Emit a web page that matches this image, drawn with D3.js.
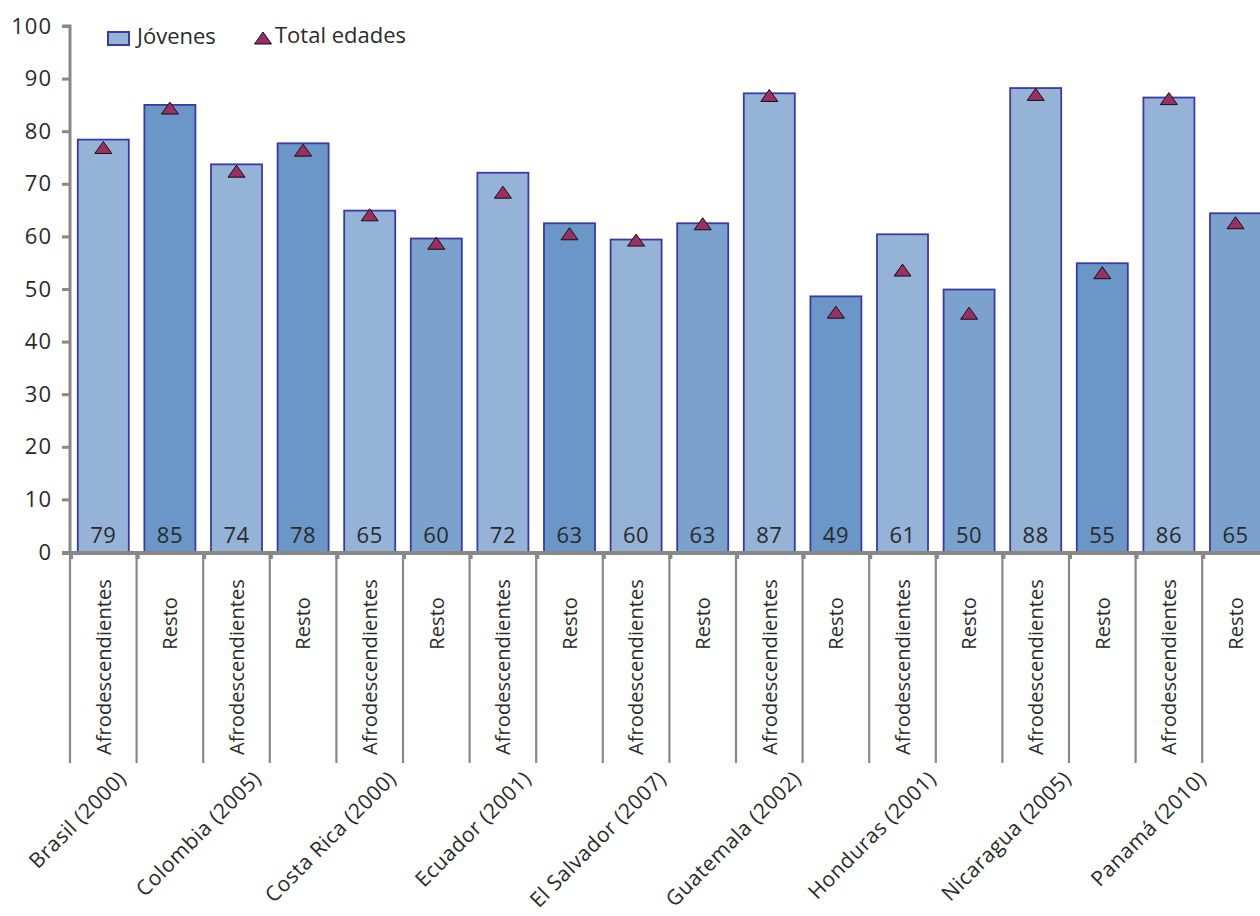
<!DOCTYPE html>
<html>
<head>
<meta charset="utf-8">
<script src="https://cdn.jsdelivr.net/npm/d3@7/dist/d3.min.js"></script>
<style>
  html, body { margin: 0; padding: 0; background: #fff; }
  svg { display: block; }
  text { font-family: "Open Sans", "Lato", sans-serif; fill: #2a2a2a; }
</style>
</head>
<body>
<svg id="chart" width="1260" height="916"></svg>
<script>
// ---- data ----
const countries = ["Brasil (2000)", "Colombia (2005)", "Costa Rica (2000)", "Ecuador (2001)", "El Salvador (2007)", "Guatemala (2002)", "Honduras (2001)", "Nicaragua (2005)", "Panamá (2010)"];
const groups = ["Afrodescendientes", "Resto"];
const jovenes = [78.4, 85.0, 73.7, 77.7, 64.9, 59.6, 72.1, 62.5, 59.4, 62.5, 87.2, 48.6, 60.4, 49.9, 88.2, 54.9, 86.4, 64.4];
const jovenesLabels = ["79", "85", "74", "78", "65", "60", "72", "63", "60", "63", "87", "49", "61", "50", "88", "55", "86", "65"];
const totalEdades = [76.9, 84.4, 72.4, 76.4, 64.1, 58.7, 68.4, 60.5, 59.3, 62.4, 86.8, 45.6, 53.6, 45.4, 87.0, 53.1, 86.2, 62.6];
const yTicks = [0, 10, 20, 30, 40, 50, 60, 70, 80, 90, 100];
const seriesNames = ["Jóvenes", "Total edades"];

// ---- styles ----
const colAfro = "#95b3d7";
const colRestoDark = "#6b97c8";
const colRestoMid = "#7ba1cd";
const restoShade = [colRestoDark, colRestoDark, colRestoMid, colRestoDark, colRestoMid, colRestoDark, colRestoMid, colRestoDark, colRestoMid];
const barStroke = "#3a3aa6";
const triFill = "#9b2f62";
const axisCol = "#888888";

// ---- table ----
const rows = [];
countries.forEach((c, ci) => {
  groups.forEach((g, gi) => {
    const i = ci * 2 + gi;
    rows.push({ key: c + "|" + g, country: c, ci, group: g, gi, jov: jovenes[i], lab: jovenesLabels[i], tot: totalEdades[i] });
  });
});

const svg = d3.select("#chart");
const step = 66.6;
const x0 = 70;
const x = d3.scaleBand()
  .domain(rows.map(d => d.key))
  .range([x0, x0 + rows.length * step])
  .paddingInner(0.234)
  .paddingOuter(0.117);
const y = d3.scaleLinear().domain([0, 100]).range([552, 26]);

// bars
svg.append("g").selectAll("rect")
  .data(rows).join("rect")
  .attr("x", d => x(d.key))
  .attr("y", d => y(d.jov))
  .attr("width", x.bandwidth())
  .attr("height", d => y(0) - y(d.jov))
  .attr("fill", d => d.gi === 0 ? colAfro : restoShade[d.ci])
  .attr("stroke", barStroke)
  .attr("stroke-width", 1.8);

// value labels inside bars
svg.append("g").selectAll("text")
  .data(rows).join("text")
  .attr("x", d => x(d.key) + x.bandwidth() / 2)
  .attr("y", 543)
  .attr("text-anchor", "middle")
  .attr("font-size", 22)
  .attr("letter-spacing", 0.5)
  .text(d => d.lab);

// triangles (Total edades)
const triW = 17, triH = 12;
const triPath = `M0,${-triH/2} L${triW/2},${triH/2} L${-triW/2},${triH/2} Z`;
svg.append("g").selectAll("path")
  .data(rows).join("path")
  .attr("d", triPath)
  .attr("transform", d => `translate(${x(d.key) + x.bandwidth() / 2},${y(d.tot)})`)
  .attr("fill", triFill)
  .attr("stroke", "#111")
  .attr("stroke-width", 1);

// y axis
const yAxis = d3.axisLeft(y).tickValues(yTicks).tickSize(8).tickPadding(10).tickFormat(d3.format("d"));
const gy = svg.append("g").attr("transform", `translate(${x0},0)`).call(yAxis);
gy.select(".domain").attr("stroke", axisCol).attr("stroke-width", 3).attr("d", `M-8,${y(100)}H0V${y(0)}`);
gy.selectAll(".tick line").attr("stroke", axisCol).attr("stroke-width", 3);
gy.selectAll(".tick text").attr("font-size", 22).attr("letter-spacing", 1).attr("fill", "#2a2a2a").style("font-family", '"Open Sans", sans-serif');

// x axis baseline
svg.append("line")
  .attr("x1", x0 - 8).attr("x2", 1260)
  .attr("y1", y(0) + 1).attr("y2", y(0) + 1)
  .attr("stroke", axisCol).attr("stroke-width", 4);

// separators at band boundaries
const bounds = d3.range(rows.length + 1).map(i => x0 + i * x.step());
const gs = svg.append("g");
gs.selectAll("line.sep").data(bounds).join("line")
  .attr("class", "sep")
  .attr("x1", d => d).attr("x2", d => d)
  .attr("y1", y(0) + 2).attr("y2", 763)
  .attr("stroke", axisCol).attr("stroke-width", 2.2);
gs.selectAll("rect.stub").data(bounds).join("rect")
  .attr("class", "stub")
  .attr("x", d => d - 1).attr("y", y(0) + 2)
  .attr("width", 4).attr("height", 5)
  .attr("fill", axisCol);

// group labels (vertical)
svg.append("g").selectAll("text")
  .data(rows).join("text")
  .attr("transform", d => `translate(${x(d.key) + x.bandwidth() / 2},${d.gi === 0 ? 579 : 597}) rotate(-90)`)
  .attr("text-anchor", "end")
  .attr("dy", "0.36em")
  .attr("font-size", 20)
  .attr("letter-spacing", 0.1)
  .text(d => d.group);

// country labels (diagonal)
svg.append("g").selectAll("text")
  .data(countries).join("text")
  .attr("transform", (c, ci) => {
    const cx = x0 + (ci * 2 + 1) * x.step() + (ci - 4) * 1.8;
    return `translate(${cx - 2},${780}) rotate(-45)`;
  })
  .attr("text-anchor", "end")
  .attr("font-size", 21)
  .attr("letter-spacing", 0.5)
  .text(c => c);

// legend
const lg = svg.append("g");
lg.append("rect").attr("x", 108).attr("y", 32).attr("width", 21).attr("height", 13)
  .attr("fill", colAfro).attr("stroke", barStroke).attr("stroke-width", 2);
lg.append("text").attr("x", 137).attr("y", 44).attr("font-size", 22).text(seriesNames[0]);
lg.append("path").attr("d", triPath).attr("transform", "translate(263,38)")
  .attr("fill", triFill).attr("stroke", "#111").attr("stroke-width", 1);
lg.append("text").attr("x", 275).attr("y", 43).attr("font-size", 22).text(seriesNames[1]);
</script>
</body>
</html>
